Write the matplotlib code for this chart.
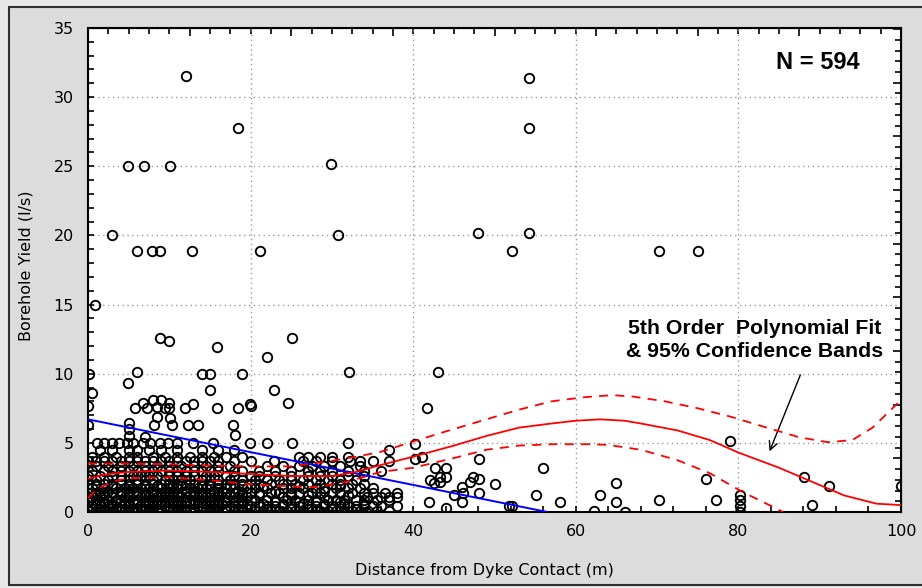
import numpy as np
import matplotlib.pyplot as plt
from matplotlib.ticker import MultipleLocator, NullFormatter
from matplotlib.patches import Rectangle

# dense part of the cloud, read row by row: yield level and the distances on it
dense_y = [0.1, 0.25, 0.4, 0.6, 0.75, 0.9, 1.1, 1.25, 1.4, 1.55, 1.7, 1.85, 2.0, 2.3, 2.6,
           3.0, 3.3, 3.7, 4.0, 4.5]
dense_x = [
    [0, 1, 2, 3, 4, 5, 6, 7, 8, 9, 10, 11, 12, 13, 14, 15, 16, 17, 18, 19, 20.5, 21.5, 22.5,
     23.5, 24.5, 25.5, 26.5, 27.5, 28.5, 29.5, 30.5, 31.5, 32.5, 33.5, 34.5, 35.5, 37],
    [0.5, 1.5, 3.5, 4.5, 6.5, 7.5, 8.5, 10.5, 11.5, 12.5, 14.5, 15.5, 17, 18.5, 19.5, 22, 25,
     27, 30, 33],
    [0.5, 1.5, 2.5, 3, 4, 5, 6.5, 7, 8, 9.5, 10, 11, 12, 13.5, 14, 15, 16, 17.5, 18, 19, 20,
     21, 22, 23, 24, 25, 26, 27, 28, 29, 30, 31, 32, 33, 34, 35, 36, 38],
    [1, 2, 3, 4.5, 5, 6, 7.5, 8.5, 9, 10.5, 11.5, 12.5, 13, 14.5, 15.5, 16.5, 18.5, 19.5,
     21.5, 24, 26.5, 29, 31.5, 34],
    [0, 2, 3.5, 5.5, 7, 8, 9.5, 11, 12, 13.5, 15, 16, 17, 18, 19, 23, 26, 28, 31],
    [0, 1, 2.5, 3.5, 4, 5.5, 6, 7, 8, 9, 10, 11, 12, 13, 14, 15, 16, 17, 18, 19, 20, 20.5, 22,
     23, 24.5, 25.5, 27, 28, 29.5, 30.5, 31.5, 33, 34, 35.5, 37],
    [0.5, 1.5, 3, 4.5, 5, 6.5, 7.5, 8.5, 9.5, 10.5, 11.5, 12, 13.5, 14.5, 15.5, 17, 18.5, 19.5,
     24, 29, 34.3, 36, 37, 38],
    [1, 2, 4, 6, 7, 8, 9, 10, 11, 12.5, 13, 14, 16, 17.5, 19, 21, 25, 27, 32],
    [0, 1, 2, 3, 4, 5, 6, 7, 8, 9, 10, 11, 12, 13, 14, 15, 16, 17, 18, 19, 20, 21, 22.5, 23.5,
     25, 26, 27.5, 28.5, 30, 31, 32.5, 34, 35, 36.5, 38],
    [1.5, 2.5, 4, 5, 6, 8, 9.5, 10.5, 12, 13, 15.5, 16.5, 18.5, 23, 29],
    [0.5, 2, 3.5, 4.5, 5.5, 6.5, 7.5, 9, 10, 11, 12.5, 13.5, 14.5, 16, 17, 18, 19.5, 20.5, 22,
     24, 25, 26.5, 28, 29, 30.5, 32, 33.5, 35],
    [1, 3, 5, 7, 8.5, 10.5, 11.5, 14, 15, 17.5, 19, 21.5, 26, 31],
    [0, 1, 2, 3, 4, 5, 6, 7, 8, 9, 10, 11, 12, 13, 14, 15, 16, 17, 18, 19, 20, 21, 22.5, 24,
     25.5, 27, 28.5, 30, 31, 32.5, 34],
    [1, 2.5, 4, 5, 6, 7, 8, 9.5, 10.5, 11.5, 12.5, 14, 15, 16, 17.5, 19, 20.5, 22, 23.5, 25,
     26.5, 28, 29.5, 31, 33],
    [0, 1.5, 3, 4, 5.5, 6.5, 7.5, 8.5, 10, 11, 12, 13, 14.5, 15.5, 17, 18, 20, 21, 23, 25, 27,
     28.5, 30, 32, 34],
    [0.5, 2, 3, 4, 5, 6, 7, 8, 9, 10, 11, 12, 13, 14, 15, 16, 18, 19, 21, 23, 25, 27, 28.5, 30,
     32, 34, 36],
    [1, 2.5, 4, 5.5, 7, 8.5, 10, 11.5, 13, 14.5, 16, 17.5, 22, 24, 26, 27.5, 29, 31, 33.4],
    [0, 1, 2, 3, 4, 5, 6, 7, 8, 9, 10, 11, 12, 13, 14, 15, 16, 18, 20, 22.9, 26.5, 28, 30,
     32.2, 33.5, 35, 37],
    [0.5, 2, 3.5, 5, 6, 8, 9.5, 11, 12.5, 14, 15.5, 17, 19, 26, 27, 28.5, 30, 32],
    [1.5, 3, 5, 6, 7.5, 9, 11, 14, 16, 18, 37],
]

# remaining points, read one by one
spread_x = [1.1, 2.0, 2.9, 3.8, 4.8, 5.5, 6.8, 7.6, 8.9, 9.8, 10.9, 12.9, 15.4, 19.9, 22.0,
            25.1, 32.0, 40.2,
            5.0, 5.0, 5.0, 7.0, 8.1, 8.5, 10.1, 10.3, 12.3, 13.5, 17.8, 18.1, 0.0, 0.0,
            5.8, 6.8, 7.3, 8.0, 8.5, 9.0, 9.5, 10.0, 10.0, 11.9, 12.9, 15.9, 18.5, 19.9,
            20.0, 24.6, 22.9, 15.0, 0.5, 4.9, 0.1, 6.0, 14.0, 15.0, 19.0, 32.1, 22.0,
            15.9, 8.9, 10.0, 25.1, 0.9, 43.1, 41.7,
            41.1, 40.2, 42.7, 43.3, 44.0, 44.0, 43.3, 42.5, 42.1, 41.9, 44.0, 45.0, 46.0,
            46.1, 46.0, 47.0, 47.4, 48.1, 48.1, 48.1, 50.1, 51.8, 52.2, 55.1, 56.0, 58.1,
            62.2, 63.0, 65.0, 65.0, 66.0, 70.2, 76.0, 77.2, 79.0, 80.2, 80.2, 80.2, 80.2,
            88.1, 89.1, 91.1, 100.0,
            3.0, 6.0, 7.9, 8.9, 12.8, 21.1, 30.7, 4.9, 6.9, 10.1, 29.9, 18.5, 12.0,
            48.0, 54.2, 52.1, 70.2, 75.0, 54.2, 54.2]
spread_y = [5.0, 5.0, 5.0, 5.0, 5.0, 5.0, 5.0, 5.0, 5.0, 5.0, 5.0, 5.0, 5.0, 5.0, 5.0,
            5.0, 5.0, 4.9,
            5.5, 6.0, 6.4, 5.4, 6.3, 6.9, 6.8, 6.3, 6.3, 6.3, 6.3, 5.6, 7.7, 6.3,
            7.5, 7.9, 7.5, 8.1, 7.6, 8.1, 7.5, 7.9, 7.5, 7.5, 7.8, 7.5, 7.5, 7.8,
            7.7, 7.9, 8.8, 8.8, 8.6, 9.3, 10.0, 10.1, 10.0, 10.0, 10.0, 10.1, 11.2,
            11.9, 12.6, 12.4, 12.6, 15.0, 10.1, 7.5,
            4.0, 3.8, 3.2, 2.2, 2.5, 3.2, 2.5, 2.1, 2.3, 0.7, 0.3, 1.2, 1.8,
            1.4, 0.7, 2.2, 2.5, 2.4, 1.4, 3.8, 2.0, 0.4, 0.4, 1.2, 3.2, 0.7,
            0.1, 1.2, 2.1, 0.7, 0.0, 0.9, 2.4, 0.9, 5.1, 1.2, 0.9, 0.4, 0.0,
            2.5, 0.5, 1.9, 1.9,
            20.0, 18.9, 18.9, 18.9, 18.9, 18.9, 20.0, 25.0, 25.0, 25.0, 25.2, 27.8, 31.5,
            20.2, 20.2, 18.9, 18.9, 18.9, 27.8, 31.4]

# straight-line fit
lin_x = [0, 56.5]
lin_y = [6.7, 0]

# 5th order polynomial fit and its 95% bands
fit_x = [0, 2, 5, 10, 15, 20, 25, 30, 33, 36, 40, 45, 49, 53, 57, 60, 63, 66, 68, 72.5,
         76.5, 80, 85, 89, 93, 97, 100]
fit_y = [2.4, 2.7, 2.9, 3.0, 2.9, 2.75, 2.6, 2.6, 2.9, 3.4, 4.0, 4.8, 5.5, 6.1, 6.4, 6.6,
         6.7, 6.6, 6.4, 5.9, 5.2, 4.3, 3.2, 2.2, 1.2, 0.6, 0.5]
upper_x = [0, 5, 10, 15, 20, 25, 30, 33, 36, 40, 45, 49, 53, 57, 61, 64.5, 67, 71, 75, 79,
           83.5, 87.5, 91, 94, 96.5, 100]
upper_y = [3.5, 3.5, 3.45, 3.35, 3.3, 3.3, 3.7, 4.0, 4.35, 5.1, 6.0, 6.7, 7.4, 8.0, 8.3,
           8.45, 8.35, 8.0, 7.5, 6.9, 6.1, 5.4, 5.05, 5.2, 6.1, 8.1]
lower_x = [0, 1, 3, 5, 10, 15, 20, 25, 28, 32, 36, 40, 45, 49, 53, 57, 62, 64, 68, 72.5,
           76.5, 80.5, 84.5, 85.5]
lower_y = [1.0, 1.6, 2.2, 2.45, 2.5, 2.3, 2.0, 1.85, 1.8, 2.2, 2.9, 3.2, 3.9, 4.5, 4.8, 4.9,
           4.9, 4.85, 4.5, 3.75, 2.8, 1.45, 0.3, 0.0]

pts_x = [x for row in dense_x for x in row] + spread_x
pts_y = [y for y, row in zip(dense_y, dense_x) for x in row] + spread_y

fig = plt.figure(figsize=(9.22, 5.88), dpi=100, facecolor='#e8e8e8')
fig.add_artist(Rectangle((9 / 922, 3 / 588), 1.0, 578 / 588, transform=fig.transFigure,
                         facecolor='#dcdcdc', edgecolor='#303030', lw=1.5, zorder=-5))

ax = fig.add_axes([88 / 922, 76 / 588, 813 / 922, 484 / 588])
ax.set_facecolor('white')

ax.plot(pts_x, pts_y, 'o', mfc='none', mec='black', ms=6.8, mew=1.35, zorder=3)
ax.plot(lin_x, lin_y, color='#0000ff', lw=1.4, zorder=4)
ax.plot(fit_x, fit_y, color='#ff0000', lw=1.3, zorder=4)
ax.plot(upper_x, upper_y, color='#ff0000', lw=1.3, ls=(0, (5, 4)), zorder=4)
ax.plot(lower_x, lower_y, color='#ff0000', lw=1.3, ls=(0, (5, 4)), zorder=4)

ax.set_xlim(0, 100)
ax.set_ylim(0, 35)
ax.xaxis.set_major_locator(MultipleLocator(20))
ax.xaxis.set_minor_locator(MultipleLocator(4))
ax.yaxis.set_major_locator(MultipleLocator(5))
ax.yaxis.set_minor_locator(MultipleLocator(1))
ax.tick_params(which='both', direction='in', length=4, width=1.2, color='black',
               top=False, right=False, labelsize=11.5)
ax.tick_params(axis='y', pad=10)
ax.tick_params(axis='x', pad=9)
ax.grid(True, which='major', color='#9a9a9a', ls=(0, (1, 2.5)), lw=1)
for s in ax.spines.values():
    s.set_linewidth(1.5)

top = ax.secondary_xaxis('top')
top.xaxis.set_major_locator(MultipleLocator(12.5))
top.xaxis.set_minor_locator(MultipleLocator(2.5))
top.xaxis.set_major_formatter(NullFormatter())
top.tick_params(which='major', direction='in', length=6, width=1.2)
top.tick_params(which='minor', direction='in', length=4, width=1.2)
right = ax.secondary_yaxis('right')
right.yaxis.set_major_locator(MultipleLocator(3.88))
right.yaxis.set_minor_locator(MultipleLocator(0.776))
right.yaxis.set_major_formatter(NullFormatter())
right.tick_params(which='major', direction='in', length=6, width=1.2)
right.tick_params(which='minor', direction='in', length=4, width=1.2)

fig.text(484 / 922, 1 - 570 / 588, 'Distance from Dyke Contact (m)', ha='center', va='center',
         fontsize=11.5)
fig.text(26 / 922, 1 - 266 / 588, 'Borehole Yield (l/s)', ha='center', va='center',
         rotation=90, fontsize=11.5)

ax.text(89.8, 32.5, 'N = 594', ha='center', va='center', fontsize=17, fontweight='bold',
        family=['Liberation Sans Narrow', 'Liberation Sans'])
ax.text(82.0, 12.45, '5th Order  Polynomial Fit\n& 95% Confidence Bands', ha='center',
        va='center', fontsize=15.3, fontweight='bold', family='Liberation Sans',
        linespacing=1.3)
ax.annotate('', xy=(83.7, 4.2), xytext=(87.75, 10.1),
            arrowprops=dict(arrowstyle='->', color='black', lw=1, mutation_scale=15))

fig.savefig('out.png', dpi=100, facecolor=fig.get_facecolor())
